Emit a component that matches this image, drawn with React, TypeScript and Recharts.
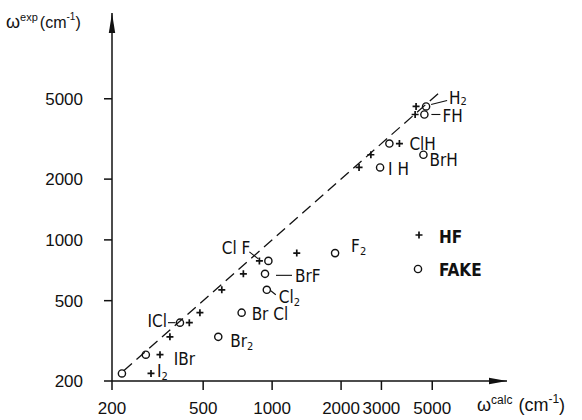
import React from 'react'
import {
  ScatterChart,
  Scatter,
  XAxis,
  YAxis,
  ReferenceLine,
  ReferenceDot,
  Legend,
  Label,
} from 'recharts'

// harmonic frequencies of the diatomics, cm^-1
const MOLECULES = ['I2', 'IBr', 'ICl', 'Br2', 'BrCl', 'Cl2', 'BrF', 'ClF', 'F2', 'IH', 'BrH', 'ClH', 'FH', 'H2']
const OMEGA_EXP = [218, 270, 389, 331, 436, 566, 679, 787, 860, 2285, 2640, 3000, 4180, 4580]
const OMEGA_HF = [296, 324, 435, 358, 484, 603, 749, 880, 1281, 2396, 2698, 3595, 4210, 4250]
const OMEGA_FAKE = [221, 281, 396, 582, 736, 948, 931, 963, 1883, 2960, 4576, 3250, 4620, 4700]

const X_TICKS = [200, 500, 1000, 2000, 3000, 5000]
const Y_TICKS = [200, 500, 1000, 2000, 5000]
const X_DOMAIN: [number, number] = [200, 10600]
const Y_DOMAIN: [number, number] = [200, 13300]
const DIAGONAL = [225, 5500]

const INK = '#111'
const TICK_FONT = "'Liberation Sans', Arial, sans-serif"
const TEXT_FONT = "'Liberation Sans Narrow', 'DejaVu Sans Condensed', 'Liberation Sans', sans-serif"

type LabelSpec = {
  base: string
  sub?: string
  subDy?: number
  dx: number
  dy: number
  anchor?: 'start' | 'end'
  leader?: [number, number, number, number]
}

// label placement relative to the FAKE marker of each molecule
const LABELS: Record<string, LabelSpec> = {
  I2: { base: 'I', sub: '2', dx: 35, dy: 4 },
  IBr: { base: 'IBr', dx: 28, dy: 10 },
  ICl: { base: 'ICl', dx: -13, dy: 4.5, anchor: 'end', leader: [-12, 0, -4.5, 0] },
  Br2: { base: 'Br', sub: '2', dx: 12, dy: 10 },
  BrCl: { base: 'Br Cl', dx: 10, dy: 7 },
  Cl2: { base: 'Cl', sub: '2', dx: 12, dy: 13, leader: [4, 1, 9, 5] },
  BrF: { base: 'BrF', dx: 30, dy: 8, leader: [11, 1.5, 27, 1.5] },
  ClF: { base: 'Cl F', dx: -18, dy: -7, anchor: 'end', leader: [-19, -9, -10, -2] },
  F2: { base: 'F', sub: '2', dx: 16, dy: -1 },
  IH: { base: 'I H', dx: 8, dy: 8 },
  BrH: { base: 'BrH', dx: 6, dy: 11 },
  ClH: { base: 'ClH', dx: 20, dy: 6 },
  FH: { base: 'FH', dx: 18, dy: 8, leader: [7, 0, 16, 0] },
  H2: { base: 'H', sub: '2', subDy: 1, dx: 23, dy: -2.5, leader: [5, -2, 21, -6] },
}

const hfData = MOLECULES.map((name, i) => ({ name, x: OMEGA_HF[i], y: OMEGA_EXP[i] }))
const fakeData = MOLECULES.map((name, i) => ({ name, x: OMEGA_FAKE[i], y: OMEGA_EXP[i] }))

function plusPath(cx: number, cy: number) {
  return `M${cx - 3.5},${cy}h7M${cx},${cy - 3.5}v7`
}

function PlusMark(props: any) {
  const { cx, cy } = props
  return <path d={plusPath(cx, cy)} stroke={INK} strokeWidth={1.7} fill='none' />
}

function MoleculeLabel({ cx, cy, name }: { cx: number; cy: number; name: string }) {
  const spec = LABELS[name]
  if (!spec) return null
  const l = spec.leader
  return (
    <g>
      {l && (
        <line x1={cx + l[0]} y1={cy + l[1]} x2={cx + l[2]} y2={cy + l[3]} stroke={INK} strokeWidth={1.1} />
      )}
      <text
        x={cx + spec.dx}
        y={cy + spec.dy}
        textAnchor={spec.anchor ?? 'start'}
        fontFamily={TEXT_FONT}
        fontSize={17}
        fill={INK}
      >
        {spec.base}
        {spec.sub && (
          <tspan fontSize={11} dy={spec.subDy ?? 3}>
            {spec.sub}
          </tspan>
        )}
      </text>
    </g>
  )
}

function CircleMark(props: any) {
  const { cx, cy, payload } = props
  return (
    <g>
      <circle cx={cx} cy={cy} r={3.6} stroke={INK} strokeWidth={1.4} fill='none' />
      <MoleculeLabel cx={cx} cy={cy} name={payload.name} />
    </g>
  )
}

function ArrowRight(props: any) {
  const { cx, cy } = props
  return <path d={`M${cx},${cy}L${cx - 18},${cy - 3.2}L${cx - 18},${cy + 3.2}Z`} fill={INK} />
}

function ArrowUp(props: any) {
  const { cx, cy } = props
  return <path d={`M${cx},${cy}L${cx - 3.2},${cy + 20}L${cx + 3.2},${cy + 20}Z`} fill={INK} />
}

function YTitle(props: any) {
  const { viewBox } = props
  return (
    <text x={viewBox.x + 6} y={viewBox.y + 15} fontFamily={TICK_FONT} fontSize={18} fill={INK}>
      ω
      <tspan fontSize={11} dy={-7}>exp</tspan>
      <tspan fontSize={16} dy={7} dx={2}>(cm</tspan>
      <tspan fontSize={10} dy={-8}>-1</tspan>
      <tspan fontSize={16} dy={8}>)</tspan>
    </text>
  )
}

function XTitle(props: any) {
  const { viewBox } = props
  return (
    <text x={viewBox.x + viewBox.width - 30} y={viewBox.y + 30} fontFamily={TICK_FONT} fontSize={18} fill={INK}>
      ω
      <tspan fontSize={12} dy={-7}>calc</tspan>
      <tspan fontSize={18} dy={7} dx={6}>(cm</tspan>
      <tspan fontSize={12} dy={-8}>-1</tspan>
      <tspan fontSize={18} dy={8}>)</tspan>
    </text>
  )
}

function LegendBox() {
  return (
    <svg width={90} height={60}>
      <path d={plusPath(9, 13)} stroke={INK} strokeWidth={1.7} />
      <text x={29} y={21} fontFamily={TEXT_FONT} fontSize={17} fontWeight='bold' fill={INK}>
        HF
      </text>
      <circle cx={8} cy={47} r={3.6} stroke={INK} strokeWidth={1.4} fill='none' />
      <text x={29} y={54} fontFamily={TEXT_FONT} fontSize={17} fontWeight='bold' fill={INK}>
        FAKE
      </text>
    </svg>
  )
}

const axisStroke = { stroke: INK, strokeWidth: 1.5 }
const tickStyle = { fill: INK, fontSize: 17, fontFamily: TICK_FONT }

export default function App() {
  return (
    <div style={{ position: 'absolute', left: 0, top: 0, background: '#fff' }}>
      <ScatterChart width={582} height={420} margin={{ top: 13, right: 75, bottom: 0, left: 0 }}>
        <XAxis
          type='number'
          dataKey='x'
          scale='log'
          domain={X_DOMAIN}
          allowDataOverflow
          ticks={X_TICKS}
          interval={0}
          height={39}
          tickSize={9}
          tickMargin={12}
          axisLine={axisStroke}
          tickLine={axisStroke}
          tick={tickStyle}
        >
          <Label content={XTitle} />
        </XAxis>
        <YAxis
          type='number'
          dataKey='y'
          scale='log'
          domain={Y_DOMAIN}
          allowDataOverflow
          ticks={Y_TICKS}
          interval={0}
          width={112}
          tickSize={8}
          tickMargin={21}
          axisLine={axisStroke}
          tickLine={axisStroke}
          tick={tickStyle}
        >
          <Label content={YTitle} />
        </YAxis>
        <ReferenceLine
          segment={[
            { x: DIAGONAL[0], y: DIAGONAL[0] },
            { x: DIAGONAL[1], y: DIAGONAL[1] },
          ]}
          stroke={INK}
          strokeWidth={1.3}
          strokeDasharray='11 6'
          ifOverflow='visible'
        />
        <ReferenceDot x={X_DOMAIN[1]} y={Y_DOMAIN[0]} shape={ArrowRight} ifOverflow='visible' />
        <ReferenceDot x={X_DOMAIN[0]} y={Y_DOMAIN[1]} shape={ArrowUp} ifOverflow='visible' />
        <Scatter name='HF' data={hfData} shape={PlusMark} isAnimationActive={false} />
        <Scatter name='FAKE' data={fakeData} shape={CircleMark} isAnimationActive={false} />
        <Legend
          layout='vertical'
          align='center'
          verticalAlign='middle'
          content={LegendBox}
          wrapperStyle={{ position: 'absolute', left: 410, top: 222, width: 90, height: 60 }}
        />
      </ScatterChart>
    </div>
  )
}
